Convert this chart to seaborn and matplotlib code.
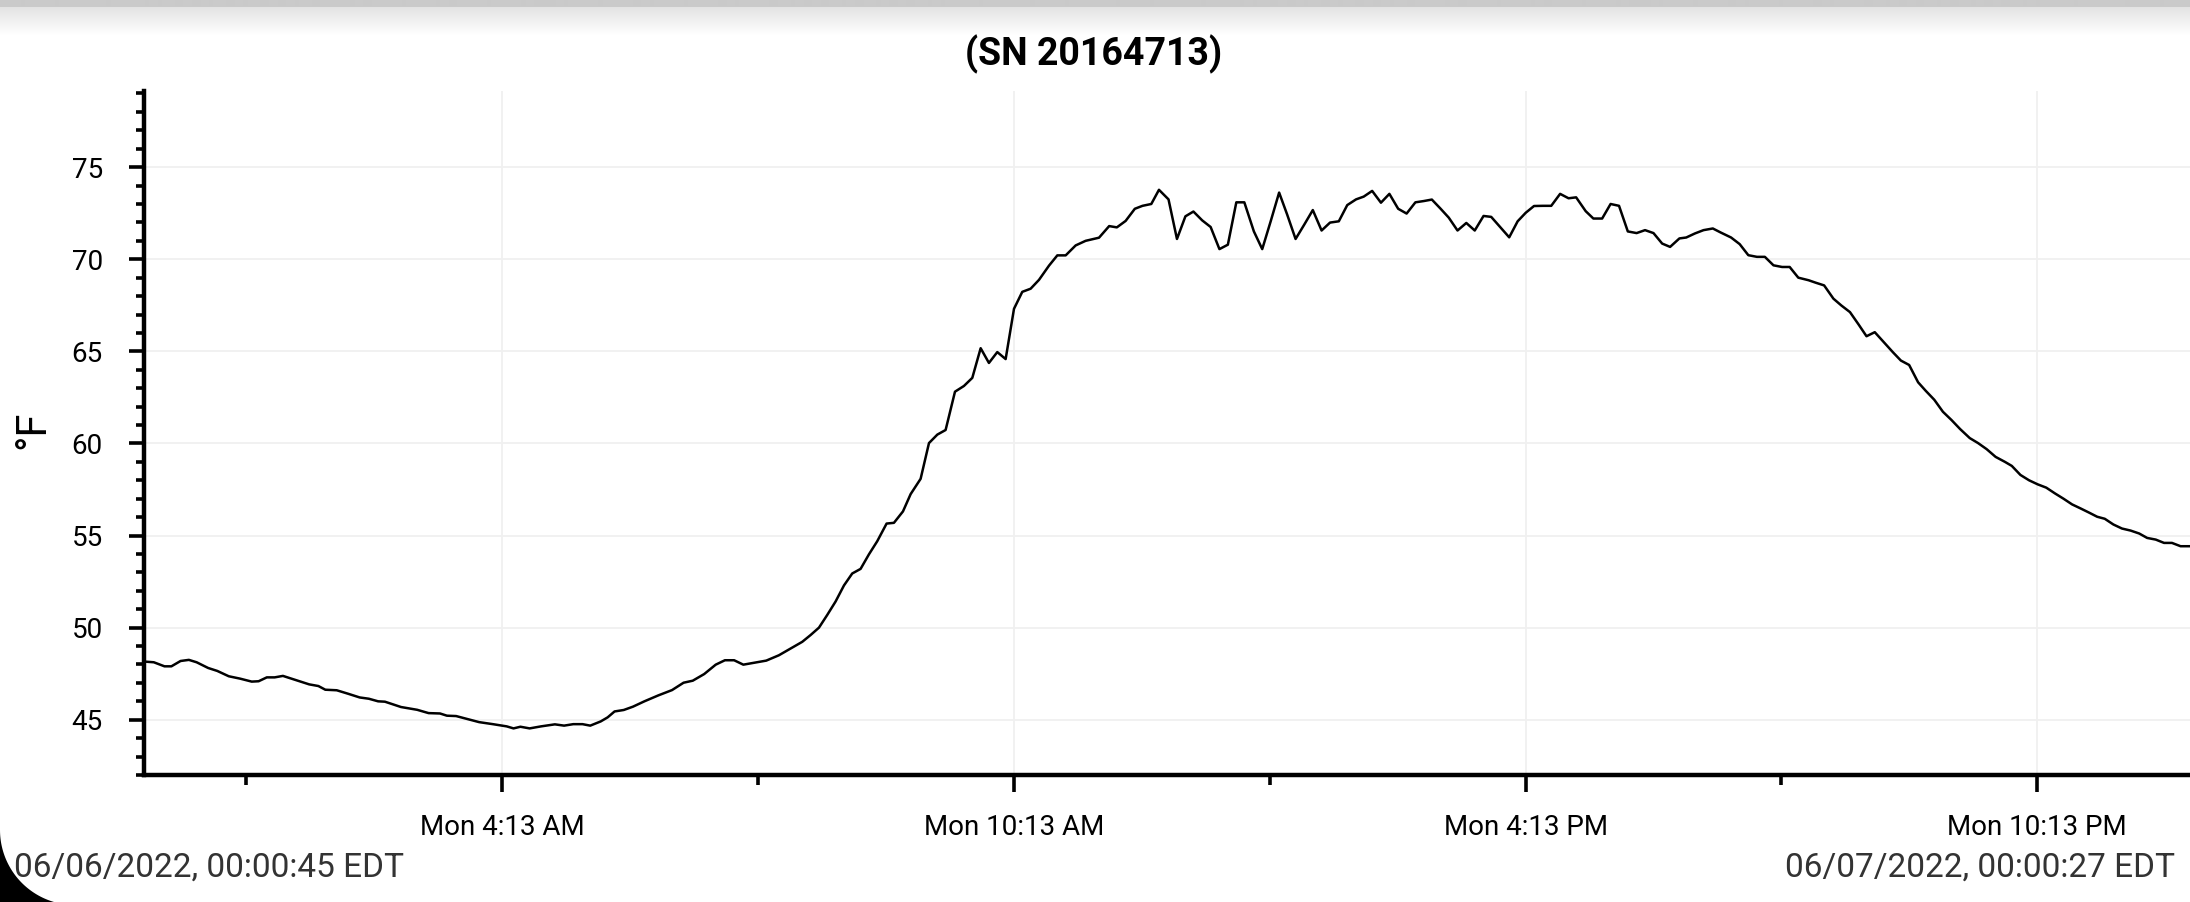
import numpy as np
import pandas as pd
import matplotlib
matplotlib.use("Agg")
import matplotlib.pyplot as plt
import matplotlib.dates as mdates
from matplotlib.ticker import MultipleLocator
from matplotlib.patches import Polygon
import seaborn as sns

# ---------------- data ----------------
day_start = "2022-06-06 00:00:00"
x_start = "2022-06-06 00:00:45"
x_end = "2022-06-07 00:00:27"

hours = [0.0125, 0.13, 0.255, 0.336, 0.444, 0.541, 0.632, 0.767, 0.874, 1.009,
         1.143, 1.278, 1.359, 1.455, 1.547, 1.644, 1.79, 1.952, 2.06, 2.141,
         2.275, 2.409, 2.544, 2.652, 2.76, 2.84, 3.029, 3.218, 3.352, 3.486,
         3.567, 3.675, 3.783, 3.945, 4.106, 4.268, 4.348, 4.429, 4.537, 4.671,
         4.833, 4.941, 5.049, 5.157, 5.248, 5.371, 5.452, 5.533, 5.641, 5.749,
         5.883, 6.045, 6.207, 6.342, 6.45, 6.584, 6.719, 6.827, 6.935, 7.043,
         7.177, 7.312, 7.46, 7.617, 7.734, 7.832, 7.93, 8.027, 8.125, 8.223,
         8.32, 8.418, 8.516, 8.613, 8.723, 8.809, 8.915, 9.005, 9.122, 9.22,
         9.318, 9.415, 9.525, 9.63, 9.728, 9.826, 9.923, 10.021, 10.119, 10.217,
         10.314, 10.412, 10.51, 10.627, 10.725, 10.823, 10.94, 11.057, 11.214, 11.333,
         11.423, 11.526, 11.634, 11.724, 11.827, 11.917, 12.029, 12.128, 12.227, 12.321,
         12.424, 12.523, 12.626, 12.725, 12.824, 12.918, 13.03, 13.128, 13.227, 13.326,
         13.42, 13.519, 13.622, 13.721, 13.824, 13.923, 14.026, 14.125, 14.228, 14.318,
         14.417, 14.52, 14.619, 14.722, 14.821, 14.924, 15.023, 15.117, 15.216, 15.315,
         15.418, 15.521, 15.62, 15.723, 15.813, 15.912, 16.024, 16.123, 16.217, 16.315,
         16.418, 16.517, 16.621, 16.72, 16.809, 16.921, 17.011, 17.114, 17.213, 17.312,
         17.415, 17.518, 17.617, 17.716, 17.818, 17.911, 18.02, 18.1, 18.202, 18.303,
         18.412, 18.505, 18.626, 18.727, 18.828, 18.929, 19.022, 19.123, 19.224, 19.313,
         19.414, 19.535, 19.616, 19.717, 19.826, 19.919, 20.02, 20.121, 20.214, 20.311,
         20.416, 20.524, 20.617, 20.714, 20.819, 20.908, 21.009, 21.11, 21.211, 21.312,
         21.425, 21.522, 21.623, 21.728, 21.837, 21.918, 22.019, 22.12, 22.221, 22.322,
         22.423, 22.524, 22.625, 22.725, 22.826, 22.919, 23.008, 23.109, 23.21, 23.311,
         23.412, 23.505, 23.606, 23.703, 23.796, 23.897, 24.0075]

temps_f = [48.16, 48.12, 47.90, 47.90, 48.19, 48.25, 48.12, 47.81, 47.65, 47.36,
           47.23, 47.07, 47.09, 47.30, 47.30, 47.38, 47.16, 46.92, 46.83, 46.63,
           46.60, 46.41, 46.21, 46.14, 46.00, 45.98, 45.69, 45.54, 45.36, 45.34,
           45.22, 45.20, 45.07, 44.87, 44.76, 44.64, 44.53, 44.62, 44.53, 44.64,
           44.75, 44.68, 44.76, 44.76, 44.68, 44.91, 45.13, 45.45, 45.53, 45.71,
           46.00, 46.32, 46.61, 47.01, 47.12, 47.48, 47.99, 48.23, 48.23, 47.99,
           48.10, 48.21, 48.50, 48.92, 49.23, 49.60, 50.00, 50.69, 51.42, 52.29,
           52.94, 53.19, 53.98, 54.69, 55.65, 55.69, 56.31, 57.25, 58.08, 60.02,
           60.48, 60.73, 62.81, 63.12, 63.56, 65.17, 64.37, 64.96, 64.58, 67.31,
           68.23, 68.40, 68.88, 69.65, 70.21, 70.21, 70.75, 71.00, 71.17, 71.80,
           71.73, 72.08, 72.74, 72.90, 73.00, 73.77, 73.25, 71.10, 72.33, 72.59,
           72.11, 71.75, 70.55, 70.79, 73.09, 73.09, 71.51, 70.55, 72.06, 73.62,
           72.43, 71.10, 71.89, 72.67, 71.56, 71.99, 72.06, 72.94, 73.25, 73.40,
           73.71, 73.07, 73.55, 72.74, 72.48, 73.09, 73.16, 73.24, 72.76, 72.26,
           71.56, 71.97, 71.56, 72.35, 72.30, 71.78, 71.19, 72.06, 72.52, 72.89,
           72.90, 72.90, 73.55, 73.31, 73.36, 72.61, 72.21, 72.21, 73.00, 72.90,
           71.51, 71.42, 71.58, 71.42, 70.85, 70.67, 71.13, 71.18, 71.40, 71.58,
           71.67, 71.45, 71.18, 70.82, 70.22, 70.13, 70.13, 69.67, 69.58, 69.58,
           69.00, 68.86, 68.73, 68.58, 67.86, 67.49, 67.13, 66.46, 65.82, 66.04,
           65.50, 64.95, 64.50, 64.26, 63.32, 62.86, 62.37, 61.72, 61.27, 60.78,
           60.29, 60.02, 59.69, 59.27, 59.00, 58.78, 58.29, 58.00, 57.78, 57.60,
           57.29, 57.00, 56.69, 56.47, 56.24, 56.02, 55.91, 55.60, 55.38, 55.27,
           55.11, 54.87, 54.78, 54.60, 54.60, 54.42, 54.42]

x_major_hours = [4 + 13 / 60, 10 + 13 / 60, 16 + 13 / 60, 22 + 13 / 60]
x_major_labels = ["Mon 4:13 AM", "Mon 10:13 AM", "Mon 4:13 PM", "Mon 10:13 PM"]
x_minor_hours = [1 + 13 / 60, 7 + 13 / 60, 13 + 13 / 60, 19 + 13 / 60]
y_major = [45, 50, 55, 60, 65, 70, 75]
y_limits = [42.0, 79.15]

title_text = "(SN 20164713)"
y_label = "°F"
start_label = "06/06/2022, 00:00:45 EDT"
end_label = "06/07/2022, 00:00:27 EDT"

assert len(hours) == len(temps_f)

# ---------------- style ----------------
sns.set_theme(style="white")
plt.rcParams["font.family"] = ["Roboto", "DejaVu Sans"]

W, H = 2190, 902
fig = plt.figure(figsize=(W / 100, H / 100), dpi=100)
fig.patch.set_facecolor("white")

base = pd.Timestamp(day_start)
df = pd.DataFrame({"time": base + pd.to_timedelta(hours, unit="h"),
                   "temp": temps_f})

ax_left, ax_top, ax_bottom = 143.8, 90.7, 775.0
ax = fig.add_axes([ax_left / W, 1 - ax_bottom / H, 1 - ax_left / W,
                   (ax_bottom - ax_top) / H])
ax.set_facecolor("white")

sns.lineplot(data=df, x="time", y="temp", ax=ax, color="black",
             linewidth=1.8, zorder=3)

def hnum(hlist):
    return mdates.date2num([(base + pd.Timedelta(hours=h)).to_pydatetime() for h in hlist])

ax.set_xlim(mdates.date2num(pd.Timestamp(x_start).to_pydatetime()),
            mdates.date2num(pd.Timestamp(x_end).to_pydatetime()))
ax.set_ylim(*y_limits)

ax.set_xticks(hnum(x_major_hours))
ax.set_xticklabels(x_major_labels)
ax.set_xticks(hnum(x_minor_hours), minor=True)
ax.set_yticks(y_major)
ax.set_yticklabels([str(v) for v in y_major])
ax.yaxis.set_minor_locator(MultipleLocator(1))

ax.grid(True, which="major", axis="both", color="#f0f0f0", linewidth=1.3)
ax.set_axisbelow(True)

for s in ["top", "right"]:
    ax.spines[s].set_visible(False)
for s in ["left", "bottom"]:
    ax.spines[s].set_color("black")
    ax.spines[s].set_linewidth(3.2)

ax.tick_params(axis="y", which="major", direction="out", length=11, width=2.6,
               color="black", pad=18.5, labelsize=20, labelcolor="black", left=True)
ax.tick_params(axis="y", which="minor", direction="out", length=6, width=2.6,
               color="black", left=True)
ax.tick_params(axis="x", which="major", direction="out", length=12, width=2.6,
               color="black", pad=16, labelsize=20, labelcolor="black", bottom=True)
ax.tick_params(axis="x", which="minor", direction="out", length=7, width=2.6,
               color="black", bottom=True)
ax.set_xlabel("")
ax.set_ylabel("")

# title and labels
fig.text(1094 / W, 1 - 54 / H, title_text, ha="center", va="center",
         fontsize=27, fontweight="bold", color="black")
fig.text(33 / W, 1 - 430 / H, y_label, rotation=90, ha="center", va="center",
         fontsize=30, color="black")
fig.text(14 / W, 1 - 868 / H, start_label, ha="left", va="center",
         fontsize=24, color="#333333")
fig.text(2175 / W, 1 - 868 / H, end_label, ha="right", va="center",
         fontsize=24, color="#333333")

# top shadow band (screenshot chrome)
band_h = 40
grad = np.ones((band_h, 2))
grad[:7, :] = 0.79
ramp = np.linspace(0.89, 1.0, band_h - 7 - 4)
grad[7:7 + len(ramp), :] = ramp[:, None]
band = fig.add_axes([0, 1 - band_h / H, 1, band_h / H], zorder=-1)
band.imshow(grad, cmap="gray", vmin=0, vmax=1, aspect="auto",
            interpolation="bilinear")
band.set_axis_off()

# bottom-left rounded screen corner
cx, cy, r = 75.0, 830.0, 75.0
theta = np.linspace(np.pi, np.pi / 2, 60)
arc = [((cx + r * np.cos(t)) / W, 1 - (cy + r * np.sin(t)) / H) for t in theta]
verts = [(0, 1 - cy / H)] + arc + [(cx / W, 0), (0, 0)]
fig.add_artist(Polygon(verts, closed=True, transform=fig.transFigure,
                       facecolor="black", edgecolor="none", zorder=10))

fig.savefig("out.png", dpi=100, facecolor="white")
